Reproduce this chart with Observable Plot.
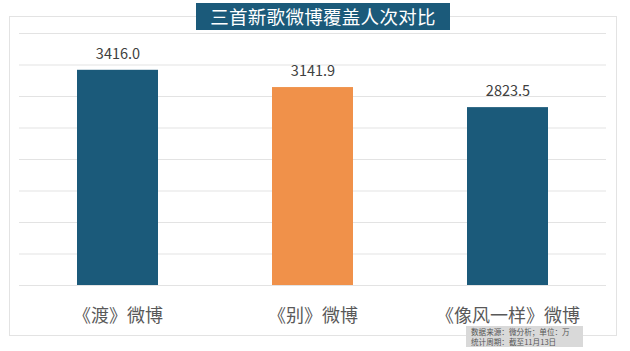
<!DOCTYPE html>
<html><head><meta charset="utf-8">
<script src="https://cdn.jsdelivr.net/npm/d3@7"></script>
<script src="https://cdn.jsdelivr.net/npm/@observablehq/plot@0.6"></script>
<style>
body{margin:0;background:#fff;font-family:"Noto Sans CJK SC","Noto Sans",sans-serif;}
#wrap{position:relative;width:630px;height:351px;overflow:hidden;}
#frame{position:absolute;left:9px;top:16px;width:606px;height:318px;border:1px solid #e3e3e3;}
#chart{position:absolute;left:0;top:0;}
#title{position:absolute;left:196px;top:3px;width:254px;height:27px;background:#1B5A7A;color:#fff;font-size:18.5px;line-height:27px;text-align:center;letter-spacing:0.3px;}
#src{position:absolute;left:466px;top:326px;width:117px;height:21px;background:#d9d9d9;color:#555;font-size:7.6px;line-height:9.5px;padding:1px 0 0 5px;box-sizing:border-box;white-space:nowrap;}
</style></head>
<body><div id="wrap"><div id="frame"></div><div id="chart"></div>
<div id="title">三首新歌微博覆盖人次对比</div>
<div id="src">数据来源：微分析；单位：万<br>统计周期：截至11月13日</div></div>
<script>
const categories = ["《渡》微博", "《别》微博", "《像风一样》微博"];
const values = [3416.0, 3141.9, 2823.5];
const colors = ["#1B5A7A", "#F0914A", "#1B5A7A"];
const yTicks = [0, 500, 1000, 1500, 2000, 2500, 3000, 3500, 4000];
const data = categories.map((c, i) => ({c, v: values[i], col: colors[i]}));
const chart = Plot.plot({
  width: 630, height: 351,
  marginLeft: 19, marginRight: 24, marginTop: 33, marginBottom: 66,
  style: {fontFamily: '"Noto Sans CJK SC","Noto Sans",sans-serif', background: "transparent"},
  x: {domain: categories, paddingInner: 0.585, paddingOuter: 0.2925, label: null},
  y: {domain: [0, 4000], label: null},
  marks: [
    Plot.gridY(yTicks, {stroke: "#e3e3e3", strokeOpacity: 1}),
    Plot.barY(data, {x: "c", y: "v", fill: "col"}),
    Plot.text(data, {x: "c", y: "v", text: d => d.v.toFixed(1), dy: -16, fontSize: 14.5, fill: "#404040"}),
    Plot.axisX({tickSize: 0, tickPadding: 24, fontSize: 18, color: "#595959"}),
    Plot.axisY({ticks: [], tickSize: 0, label: null})
  ]
});
document.getElementById("chart").append(chart);
</script></body></html>
